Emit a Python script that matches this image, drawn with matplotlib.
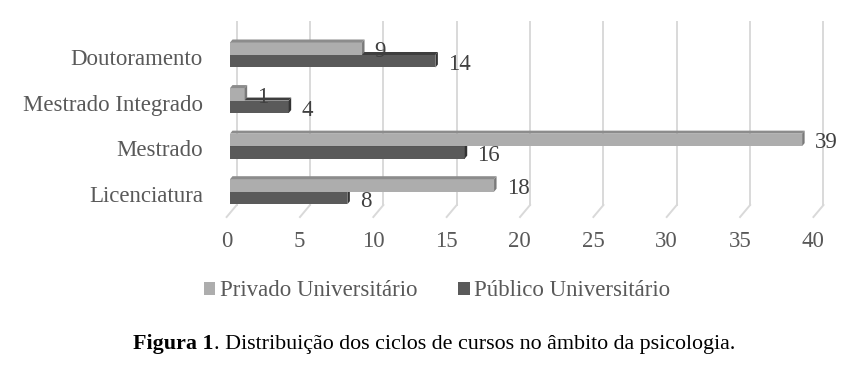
import matplotlib
matplotlib.use("Agg")
import matplotlib.pyplot as plt
from matplotlib.patches import Polygon, Patch
import numpy as np

plt.rcParams['font.family'] = ['Liberation Serif', 'DejaVu Serif']

categories = ["Licenciatura", "Mestrado", "Mestrado Integrado", "Doutoramento"]
privado = [18, 39, 1, 9]
publico = [8, 16, 4, 14]
series_names = ["Privado Universitário", "Público Universitário"]
xticks = [0, 5, 10, 15, 20, 25, 30, 35, 40]
caption_bold = "Figura 1"
caption_rest = ". Distribuição dos ciclos de cursos no âmbito da psicologia."

W, H = 867, 376
K = 14.67      # px per value unit
S = 45.57      # px per category
FS = 16.5
fig = plt.figure(figsize=(W / 100, H / 100), dpi=100)
ax = fig.add_axes([230 / W, 1 - 217 / H, 40 * K / W, (217 - 20) / H])
ax.set_xlim(0, 40)
ax.set_ylim(-0.555, 3.768)
ax.axis('off')

# 3D offsets (data units)
back_dx, back_dy = 6.7 / K, 12 / S
bar_dx, bar_dy = 2.5 / K, 3.0 / S
h = 12.5 / S
floor_front = -0.555
floor_back = floor_front + back_dy
top_y = 3.724

grid_c = '#d9d9d9'
for v in xticks:
    ax.plot([v + back_dx, v + back_dx], [floor_back, top_y], color=grid_c, lw=1.4, zorder=1, clip_on=False)
    ax.plot([v - 0.23, v + back_dx], [floor_front, floor_back], color=grid_c, lw=1.4, zorder=1, clip_on=False)

light = dict(front='#adadad', top='#8c8c8c', side='#7a7a7a')
dark = dict(front='#5a5a5a', top='#3e3e3e', side='#333333')

ypos = np.arange(len(categories))

def bar3d(val, y0, cols, z):
    ax.barh(y0, val, height=h, align='edge', color=cols['front'], zorder=z, linewidth=0)
    y1 = y0 + h
    ax.add_patch(Polygon([(0, y1), (val, y1), (val + bar_dx, y1 + bar_dy), (bar_dx, y1 + bar_dy)],
                         closed=True, facecolor=cols['top'], edgecolor='none', zorder=z))
    ax.add_patch(Polygon([(val, y0), (val + bar_dx, y0 + bar_dy), (val + bar_dx, y1 + bar_dy), (val, y1)],
                         closed=True, facecolor=cols['side'], edgecolor='none', zorder=z))

for i in ypos:
    bar3d(publico[i], i - h, dark, 3)
    bar3d(privado[i], i, light, 4)
    ax.annotate(str(privado[i]), (privado[i], i + h / 2 - 0.06), xytext=(9, 0), textcoords='offset points',
                ha='left', va='center', fontsize=FS, color='#404040', zorder=10, annotation_clip=False)
    ax.annotate(str(publico[i]), (publico[i], i - h / 2 - 0.07), xytext=(9, 0), textcoords='offset points',
                ha='left', va='center', fontsize=FS, color='#404040', zorder=10, annotation_clip=False)
    ax.text(-1.85, i - 0.1, categories[i], ha='right', va='center', fontsize=FS, color='#595959')

for v in xticks:
    ax.text(v - 0.25, floor_front - 24 / S, str(v), ha='center', va='center', fontsize=FS, color='#595959')

handles = [Patch(facecolor=light['front']), Patch(facecolor=dark['front'])]
leg = fig.legend(handles, series_names, loc='center', bbox_to_anchor=(437 / W, 1 - 291 / H), ncol=2,
                 frameon=False, fontsize=FS, handlelength=0.5, handleheight=0.5, handletextpad=0.2,
                 columnspacing=1.8)
for t in leg.get_texts():
    t.set_color('#595959')

fig.canvas.draw()
r = fig.canvas.get_renderer()
t1 = fig.text(133 / W, 1 - 344 / H, caption_bold, fontweight='bold', fontsize=15.8, ha='left', va='center')
bb = t1.get_window_extent(r)
fig.text(bb.x1 / W, 1 - 344 / H, caption_rest, fontsize=15.8, ha='left', va='center')

fig.savefig('out.png', dpi=100)
